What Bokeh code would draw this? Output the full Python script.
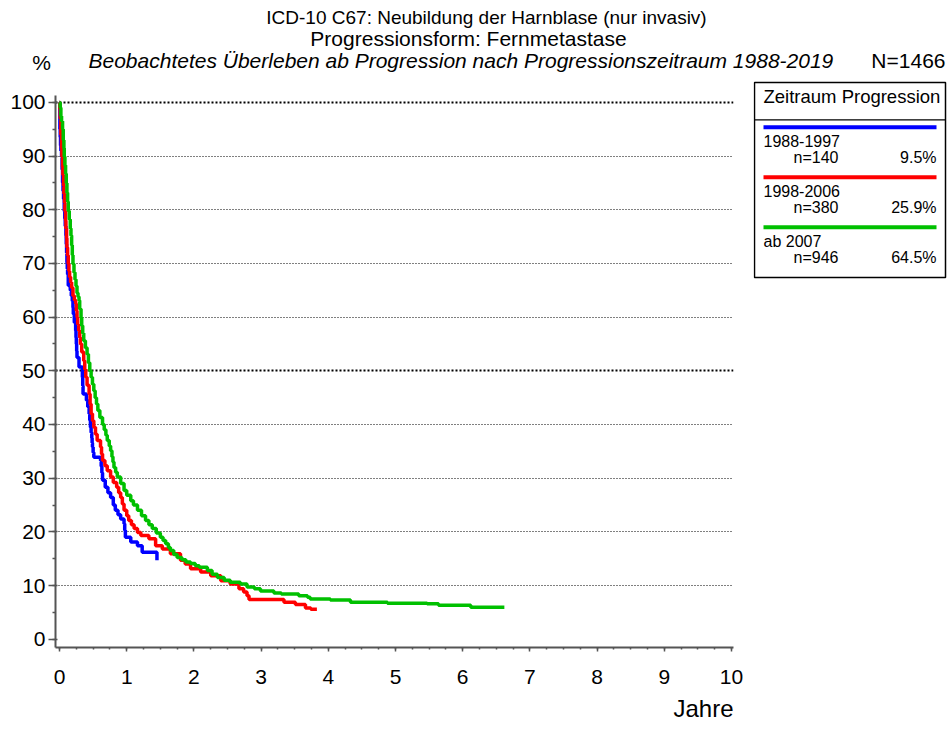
from bokeh.plotting import figure
from bokeh.models import Range1d, SingleIntervalTicker, FixedTicker, Grid, Title, ColumnDataSource
from bokeh.layouts import column, row
from bokeh.core.properties import value
from bokeh.embed import file_html
from bokeh.resources import INLINE

FONT = "Liberation Sans"

# ---------------- data ----------------
title1 = "ICD-10 C67: Neubildung der Harnblase (nur invasiv)"
title2 = "Progressionsform: Fernmetastase"
title3 = "Beobachtetes Überleben ab Progression nach Progressionszeitraum 1988-2019"
total_n = "N=1466"
x_title = "Jahre"
legend_title = "Zeitraum Progression"
periods = ["1988-1997", "1998-2006", "ab 2007"]
n_cases = [140, 380, 946]
shares = ["9.5%", "25.9%", "64.5%"]
colors = ["#0000FF", "#FF0000", "#00C000"]

t_1988 = [0.0, 0.005, 0.01, 0.015, 0.02, 0.03, 0.038, 0.045, 0.052, 0.06, 0.07, 0.078, 0.085,
          0.095, 0.1, 0.105, 0.11, 0.115, 0.12, 0.13, 0.16, 0.175, 0.19, 0.2, 0.205, 0.22,
          0.24, 0.245, 0.25, 0.255, 0.26, 0.29, 0.34, 0.345, 0.35, 0.4, 0.42, 0.44, 0.45,
          0.46, 0.47, 0.48, 0.485, 0.49, 0.5, 0.51, 0.61, 0.62, 0.63, 0.64, 0.68, 0.72, 0.76,
          0.8, 0.83, 0.87, 0.91, 0.96, 0.97, 0.98, 1.06, 1.16, 1.23, 1.45]
s_1988 = [100, 95, 93.5, 92, 91, 89.9, 87.5, 85.1, 83.5, 82, 79.8, 78.4, 77,
          75.2, 73.6, 72, 70.2, 69, 68, 65.9, 65, 64, 63, 61.8, 60.6, 59,
          57.5, 56.2, 55, 53.7, 52.5, 50.7, 48.8, 47.2, 45.7, 44.5, 43.3, 42, 40.8,
          39.5, 38.5, 37.5, 36.6, 35.8, 34.8, 33.9, 33.3, 32.2, 31, 29.6, 28.3, 27.3, 26.4,
          25, 24, 23.2, 22.4, 21.5, 20.3, 19, 18.1, 17.4, 16.2, 14.7]

t_1998 = [0.0, 0.005, 0.01, 0.02, 0.03, 0.035, 0.045, 0.05, 0.06, 0.065, 0.075, 0.08, 0.09,
          0.095, 0.105, 0.11, 0.12, 0.13, 0.14, 0.15, 0.165, 0.18, 0.2, 0.22, 0.24, 0.25,
          0.26, 0.27, 0.285, 0.3, 0.31, 0.33, 0.36, 0.375, 0.39, 0.41, 0.44, 0.455, 0.47,
          0.49, 0.51, 0.535, 0.56, 0.61, 0.625, 0.64, 0.675, 0.71, 0.76, 0.8, 0.85, 0.88,
          0.91, 0.935, 0.96, 1.0, 1.03, 1.07, 1.11, 1.16, 1.21, 1.33, 1.43, 1.53, 1.65, 1.8,
          1.87, 1.95, 2.1, 2.25, 2.4, 2.54, 2.67, 2.74, 2.79, 2.82, 3.34, 3.51, 3.66, 3.74, 3.83]
s_1998 = [100, 98.8, 97, 94, 91.5, 89.9, 88, 86.5, 84.5, 83, 81.3, 79.8, 78,
          76.5, 74.7, 73, 71.5, 69.9, 68.6, 67.5, 66.5, 65.5, 64, 63.2, 62.5, 61.2,
          60, 58.7, 57.5, 56.2, 55, 53.5, 51.9, 50.3, 48.8, 47.3, 45.7, 43.8, 42,
          40.7, 39.5, 38.2, 37, 35.8, 34.5, 33.3, 32.3, 31.4, 30.2, 29.2, 28.3, 27.3,
          26.4, 25.2, 24, 23, 22.1, 21.3, 20.6, 19.9, 19.3, 18.7, 17.4, 16.8, 15.9, 14.7,
          14.0, 13.1, 12.5, 11.8, 10.9, 10.3, 9.4, 8.8, 8.1, 7.4, 6.9, 6.45, 5.8, 5.6, 5.6]

t_2007 = [0.0, 0.01, 0.02, 0.03, 0.045, 0.055, 0.065, 0.07, 0.08, 0.09, 0.1, 0.11, 0.12,
          0.13, 0.145, 0.16, 0.17, 0.18, 0.19, 0.2, 0.215, 0.23, 0.245, 0.26, 0.275, 0.29,
          0.3, 0.32, 0.33, 0.345, 0.36, 0.385, 0.41, 0.43, 0.45, 0.47, 0.49, 0.51, 0.53,
          0.55, 0.57, 0.6, 0.64, 0.665, 0.69, 0.71, 0.74, 0.76, 0.78, 0.795, 0.81, 0.835,
          0.86, 0.91, 0.96, 1.0, 1.06, 1.1, 1.16, 1.22, 1.28, 1.33, 1.38, 1.44, 1.5, 1.54,
          1.58, 1.62, 1.65, 1.7, 1.75, 1.82, 1.88, 1.95, 2.02, 2.08, 2.2, 2.27, 2.35, 2.45,
          2.54, 2.69, 2.79, 2.9, 2.99, 3.19, 3.3, 3.56, 3.69, 3.73, 4.03, 4.33, 4.88, 5.47,
          5.64, 6.12, 6.62]
s_2007 = [100, 99, 97.5, 96.5, 95, 93, 91.5, 89.9, 88.3, 86.7, 85, 83.2, 81.5,
          79.8, 78.2, 76.5, 75.2, 73.4, 71.6, 69.9, 68.3, 67, 65.8, 64.5, 63.8, 63.1,
          61.5, 60, 58.4, 57, 55.6, 54.3, 53.1, 51.5, 50, 48.8, 47.5, 46.3, 45,
          43.8, 42.6, 41.3, 40, 39, 38, 37, 36, 35.1, 34, 33, 32, 31.1,
          30.2, 29, 27.7, 26.8, 25.8, 25, 24, 23, 22.1, 21.3, 20.6, 19.8, 19.0, 18.4,
          17.8, 17.1, 16.5, 15.8, 15.2, 14.8, 14.4, 14.1, 13.7, 13.4, 12.8, 12.1, 11.5, 11.0,
          10.6, 10.3, 9.7, 9.4, 9.0, 8.6, 8.4, 8.1, 7.8, 7.5, 7.3, 6.9, 6.7, 6.6,
          6.3, 5.95, 5.95]

x_ticks_major = 1
y_ticks_major = 10
grid_regular = [10, 20, 30, 40, 60, 70, 80, 90]
grid_bold = [50, 100]

# ---------------- header (local coords = page pixels) ----------------
HW, HH = 948, 80
hdr = figure(width=HW, height=HH, x_range=Range1d(0, HW), y_range=Range1d(HH, 0),
             output_backend="svg", toolbar_location=None, min_border=0)
hdr.axis.visible = False
hdr.grid.visible = False
hdr.outline_line_color = None
hdr.text(x=[486], y=[17], text=[title1], text_align="center", text_baseline="middle",
         text_font=value(FONT), text_font_size="19px", text_color="black")
hdr.text(x=[468], y=[38], text=[title2], text_align="center", text_baseline="middle",
         text_font=value(FONT), text_font_size="21px", text_color="black")
hdr.text(x=[88], y=[60], text=[title3], text_align="left", text_baseline="middle",
         text_font=value(FONT), text_font_size="21px", text_font_style="italic", text_color="black")
hdr.text(x=[945], y=[60], text=[total_n], text_align="right", text_baseline="middle",
         text_font=value(FONT), text_font_size="21px", text_color="black")
hdr.text(x=[41], y=[62], text=["%"], text_align="center", text_baseline="middle",
         text_font=value(FONT), text_font_size="21px", text_color="black")

# ---------------- main chart ----------------
p = figure(width=753, height=648, x_range=Range1d(-0.06, 10.03), y_range=Range1d(-1.55, 101.3),
           output_backend="svg", toolbar_location=None,
           min_border_left=55, min_border_right=20, min_border_top=15, min_border_bottom=81)
p.frame_align = False
p.outline_line_color = None
p.background_fill_color = "white"

p.xaxis.ticker = SingleIntervalTicker(interval=x_ticks_major, num_minor_ticks=4)
p.yaxis.ticker = SingleIntervalTicker(interval=y_ticks_major, num_minor_ticks=2)
for ax in (p.xaxis[0], p.yaxis[0]):
    ax.axis_line_color = "#555555"
    ax.axis_line_width = 2
    ax.major_tick_line_color = "#555555"
    ax.major_tick_line_width = 1.5
    ax.minor_tick_line_color = "#555555"
    ax.minor_tick_line_width = 1.5
    ax.major_label_text_font = FONT
    ax.major_label_text_font_size = "21px"
    ax.major_label_text_color = "black"
p.xaxis.major_tick_out = 4
p.xaxis.major_tick_in = 0
p.xaxis.minor_tick_out = 2
p.xaxis.minor_tick_in = 0
p.xaxis.major_label_standoff = 18
p.yaxis.major_tick_out = 7
p.yaxis.major_tick_in = 2
p.yaxis.minor_tick_out = 3
p.yaxis.minor_tick_in = 0
p.yaxis.major_label_standoff = 3

jahre = Title(text=x_title, align="right", text_font=FONT, text_font_size="24px",
              text_font_style="normal", text_color="black", standoff=13)
p.add_layout(jahre, "below")

p.xgrid.visible = False
p.ygrid.ticker = FixedTicker(ticks=grid_regular)
p.ygrid.grid_line_color = "black"
p.ygrid.grid_line_width = 1
p.ygrid.grid_line_dash = "1 2"
bold = Grid(dimension=1, ticker=FixedTicker(ticks=grid_bold), grid_line_color="black",
            grid_line_width=2.2, grid_line_dash="2 2")
p.add_layout(bold)

for t, s, c in zip([t_1988, t_1998, t_2007], [s_1988, s_1998, s_2007], colors):
    p.step(x=t, y=s, mode="after", line_color=c, line_width=3.5)

# ---------------- legend (local y = page y - 80, local x = page x - 753) ----------------
LW, LH = 195, 648
leg = figure(width=LW, height=LH, x_range=Range1d(0, LW), y_range=Range1d(LH, 0),
             output_backend="svg", toolbar_location=None, min_border=0)
leg.frame_align = False
leg.axis.visible = False
leg.grid.visible = False
leg.outline_line_color = None
leg.quad(left=[1], right=[192], top=[2], bottom=[197], fill_color=None,
         line_color="black", line_width=1.5)
leg.segment(x0=[1], x1=[192], y0=[39.3], y1=[39.3], line_color="black", line_width=1.2)
leg.text(x=[10], y=[16], text=[legend_title], text_align="left", text_baseline="middle",
         text_font=value(FONT), text_font_size="18.5px", text_color="black")

row_y = [46.7 + 50 * i for i in range(len(periods))]
src = ColumnDataSource(dict(
    y_line=row_y,
    y_lab=[y + 14 for y in row_y],
    y_n=[y + 30.6 for y in row_y],
    x0=[10] * len(periods), x1=[183] * len(periods),
    xn=[40] * len(periods),
    period=periods,
    ntext=["n=%d" % n for n in n_cases],
    share=shares,
    color=colors,
))
leg.segment(x0="x0", x1="x1", y0="y_line", y1="y_line", line_color="color", line_width=4, source=src)
leg.text(x="x0", y="y_lab", text="period", text_align="left", text_baseline="middle",
         text_font=value(FONT), text_font_size="16px", text_color="black", source=src)
leg.text(x="xn", y="y_n", text="ntext", text_align="left", text_baseline="middle",
         text_font=value(FONT), text_font_size="16px", text_color="black", source=src)
leg.text(x="x1", y="y_n", text="share", text_align="right", text_baseline="middle",
         text_font=value(FONT), text_font_size="16px", text_color="black", source=src)

layout = column(hdr, row(p, leg))
open("out.html", "w").write(file_html(layout, INLINE))
